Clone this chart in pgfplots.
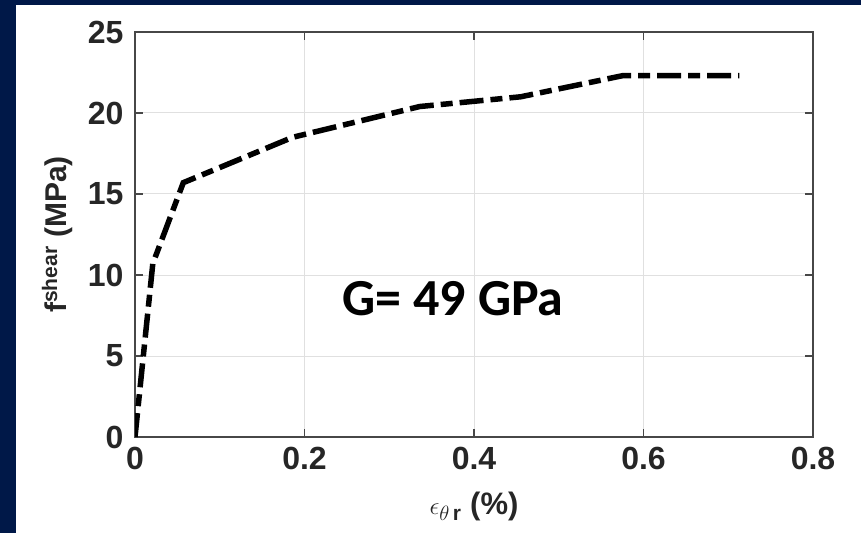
\documentclass[border=0pt]{standalone}
\usepackage{pgfplots}
\pgfplotsset{compat=1.18}
\usepackage{fontspec}
\setmainfont{Liberation Sans}
\newfontfamily\carlito{Carlito}
\definecolor{navy}{RGB}{0,24,72}
\definecolor{axgray}{RGB}{38,38,38}
\begin{document}
\begin{tikzpicture}[x=1pt,y=1pt]
\fill[navy] (0,0) rectangle (861,533);
\fill[white] (16,0) rectangle (861,528);
\useasboundingbox (0,0) rectangle (861,533);
\begin{axis}[
 at={(135pt,96pt)}, anchor=south west,
 width=678pt, height=405pt, scale only axis,
 xmin=0, xmax=0.8, ymin=0, ymax=25,
 xtick={0,0.2,0.4,0.6,0.8}, xticklabels={0,0.2,0.4,0.6,0.8},
 ytick={0,5,10,15,20,25}, yticklabels={0,5,10,15,20,25},
 tick align=inside, major tick length=8pt,
 grid=major, grid style={line width=1pt, color=black!12},
 axis line style={line width=1.5pt, color=black!72},
 tick style={line width=1.5pt, color=black!72},
 ticklabel style={font=\fontsize{32}{38}\selectfont\bfseries, text=axgray},
 xticklabel style={yshift=-7pt},
 yticklabel style={xshift=-8pt},
 xlabel={$\epsilon_{\theta\,\hbox{\fontsize{21}{24}\selectfont\bfseries r}}$ \textbf{(\%)}},
 xlabel style={at={(axis description cs:0.5,-0.172)}, anchor=center, font=\fontsize{31}{36}\selectfont, text=axgray},
 ylabel={\textbf{f\textsuperscript{shear} (MPa)}},
 ylabel style={at={(axis description cs:-0.115,0.5)}, anchor=center, rotate=0, font=\fontsize{30}{36}\selectfont, text=axgray},
]
\addplot[black, line width=5.5pt, dash pattern=on 24pt off 7pt on 12pt off 7pt] coordinates {
 (0,0) (0.021,10.7) (0.057,15.7) (0.186,18.5) (0.336,20.4) (0.455,21.0) (0.575,22.3) (0.713,22.3)
};
\node[anchor=base west, font=\carlito\bfseries\fontsize{52}{60}\selectfont, inner sep=0pt] at (axis cs:0.245,7.5) {G= 49 GPa};
\end{axis}
\end{tikzpicture}
\end{document}
